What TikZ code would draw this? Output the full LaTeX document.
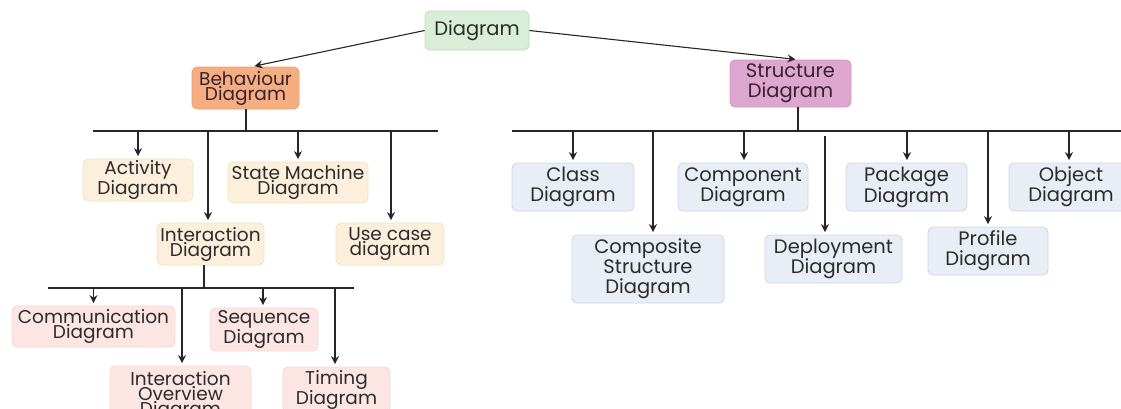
\documentclass[tikz,border=0pt]{standalone}
\usepackage{fontspec}
\setmainfont{Poppins}
\usetikzlibrary{arrows.meta}
\definecolor{gfill}{HTML}{D9EED7}\definecolor{gdraw}{HTML}{BCDDB8}
\definecolor{ofill}{HTML}{F4AE80}\definecolor{odraw}{HTML}{EDA274}
\definecolor{pfill}{HTML}{DCA6CF}\definecolor{pdraw}{HTML}{CF96C3}
\definecolor{bfill}{HTML}{FCF0DC}\definecolor{bdraw}{HTML}{F2E3C6}
\definecolor{rfill}{HTML}{FBE6E4}\definecolor{rdraw}{HTML}{F3D8D5}
\definecolor{lfill}{HTML}{E8EDF6}\definecolor{ldraw}{HTML}{CED6E5}
\definecolor{txt}{HTML}{2B2B2B}
\definecolor{txtp}{HTML}{3A1F33}
\tikzset{
  box/.style={rectangle, rounded corners=5pt, inner sep=0pt, align=center, line width=0.8pt, text=txt},
  tight/.style={font=\fontsize{18.5}{15}\selectfont},
  loose/.style={font=\fontsize{19.5}{20}\selectfont},
  gbox/.style={box, loose, fill=gfill, draw=gdraw},
  obox/.style={box, tight, fill=ofill, draw=odraw, text=txtp},
  pbox/.style={box, loose, fill=pfill, draw=pdraw, text=txtp},
  bbox/.style={box, tight, fill=bfill, draw=bdraw},
  rbox/.style={box, tight, fill=rfill, draw=rdraw},
  lbox/.style={box, loose, fill=lfill, draw=ldraw},
  arr/.style={-{Stealth[length=8pt,width=8pt]}, line width=1.1pt, draw=black!85, shorten >=2.5pt},
  bar/.style={line width=2.3pt, draw=black!85},
}
\begin{document}
\begin{tikzpicture}[x=1pt,y=-1pt]
\useasboundingbox (0,0) rectangle (1121,408);
% nodes
\node[gbox, minimum width=104pt, minimum height=39pt] (diag) at (477,30.5) {Diagram};
\node[obox, minimum width=107pt, minimum height=42pt] (beh) at (245.5,88) {Behaviour\\Diagram};
\node[pbox, minimum width=121pt, minimum height=47pt] (str) at (790.5,83.5) {Structure\\Diagram};
\node[bbox, minimum width=110pt, minimum height=42pt] (act) at (138,180) {Activity\\Diagram};
\node[bbox, minimum width=140pt, minimum height=41pt] (sm) at (298,182.5) {State Machine\\Diagram};
\node[bbox, minimum width=107pt, minimum height=42pt] (inter) at (210.5,244) {Interaction\\Diagram};
\node[bbox, minimum width=108pt, minimum height=42pt] (use) at (390,244) {Use case\\diagram};
\node[rbox, minimum width=163pt, minimum height=41pt] (comm) at (93.5,326.5) {Communication\\Diagram};
\node[rbox, minimum width=108pt, minimum height=43pt] (seq) at (264,329.5) {Sequence\\Diagram};
\node[rbox, minimum width=141pt, minimum height=60pt] (io) at (180.5,396) {Interaction\\Overview\\Diagram};
\node[rbox, minimum width=107pt, minimum height=46pt] (tim) at (336.5,390) {Timing\\Diagram};
\node[lbox, minimum width=122pt, minimum height=48pt] (class) at (573,187) {Class\\Diagram};
\node[lbox, minimum width=152pt, minimum height=68pt] (csd) at (648,269) {Composite\\Structure\\Diagram};
\node[lbox, minimum width=130pt, minimum height=48pt] (cmp) at (743,187) {Component\\Diagram};
\node[lbox, minimum width=137pt, minimum height=48pt] (dep) at (833.5,259) {Deployment\\Diagram};
\node[lbox, minimum width=121pt, minimum height=48pt] (pkg) at (906.5,187) {Package\\Diagram};
\node[lbox, minimum width=120pt, minimum height=48pt] (prof) at (988,251) {Profile\\Diagram};
\node[lbox, minimum width=124pt, minimum height=48pt] (obj) at (1071,187) {Object\\Diagram};
% bars
\coordinate (lb1) at (93,131); \coordinate (lb2) at (438,131);
\coordinate (ib1) at (48,288); \coordinate (ib2) at (354,288);
\coordinate (rb1) at (512,131); \coordinate (rb2) at (1121,131);
\draw[bar] (lb1) -- (lb2);
\draw[bar] (ib1) -- (ib2);
\draw[bar] (rb1) -- (rb2);
\draw[bar] ([xshift=0.5pt]beh.south) -- ([xshift=0.5pt]beh.south |- lb1);
\draw[bar] ([xshift=-6.5pt]inter.south) -- ([xshift=-6.5pt]inter.south |- ib1);
\draw[bar] ([xshift=7.5pt]str.south) -- ([xshift=7.5pt]str.south |- rb1);
% top arrows
\draw[arr] (diag.west) -- ([xshift=6.5pt]beh.north);
\draw[arr] (diag.east) -- ([xshift=7.5pt]str.north);
% behaviour branches
\draw[arr] (act.north |- lb1) -- (act.north);
\draw[arr] ([xshift=-2.5pt]inter.north |- lb1) -- ([xshift=-2.5pt]inter.north);
\draw[arr] (sm.north |- lb1) -- (sm.north);
\draw[arr] ([xshift=1pt]use.north |- lb1) -- ([xshift=1pt]use.north);
% interaction branches
\draw[arr] (comm.north |- ib1) -- (comm.north);
\draw[arr] ([xshift=1.5pt]io.north |- ib1) -- ([xshift=1.5pt]io.north);
\draw[arr] ([xshift=-1pt]seq.north |- ib1) -- ([xshift=-1pt]seq.north);
\draw[arr] ([xshift=-1.5pt]tim.north |- ib1) -- ([xshift=-1.5pt]tim.north);
% structure branches
\draw[arr] (class.north |- rb1) -- (class.north);
\draw[arr] ([xshift=5pt]csd.north |- rb1) -- ([xshift=5pt]csd.north);
\draw[arr] ([xshift=1pt]cmp.north |- rb1) -- ([xshift=1pt]cmp.north);
\draw[arr] ([xshift=-8.5pt,yshift=-5pt]dep.north |- rb1) -- ([xshift=-8.5pt]dep.north);
\draw[arr] ([xshift=0.5pt]pkg.north |- rb1) -- ([xshift=0.5pt]pkg.north);
\draw[arr] (prof.north |- rb1) -- (prof.north);
\draw[arr] ([xshift=-2pt]obj.north |- rb1) -- ([xshift=-2pt]obj.north);
\end{tikzpicture}
\end{document}
